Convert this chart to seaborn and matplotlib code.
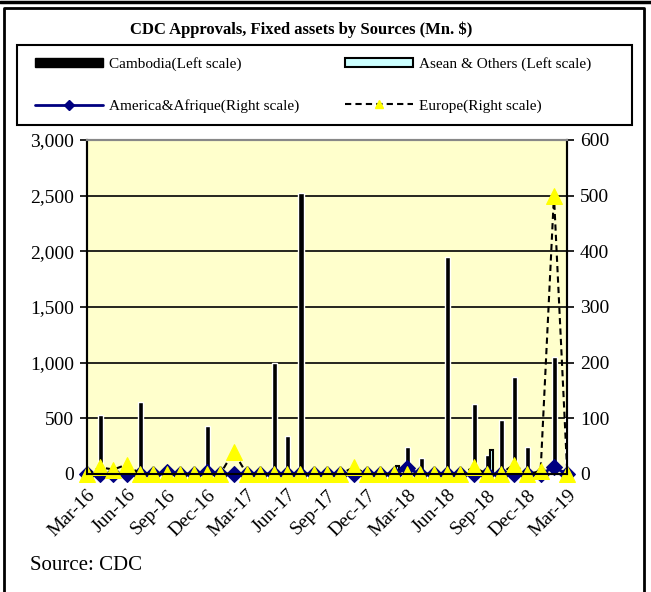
import matplotlib
matplotlib.use('Agg')
import matplotlib.pyplot as plt
import seaborn as sns
import numpy as np
import pandas as pd
from matplotlib.patches import Patch, Rectangle
from matplotlib.lines import Line2D
from matplotlib.ticker import FuncFormatter

# monthly data, Mar-16 .. Mar-19
months = ['Mar-16', 'Apr-16', 'May-16', 'Jun-16', 'Jul-16', 'Aug-16', 'Sep-16', 'Oct-16',
          'Nov-16', 'Dec-16', 'Jan-17', 'Feb-17', 'Mar-17', 'Apr-17', 'May-17', 'Jun-17',
          'Jul-17', 'Aug-17', 'Sep-17', 'Oct-17', 'Nov-17', 'Dec-17', 'Jan-18', 'Feb-18',
          'Mar-18', 'Apr-18', 'May-18', 'Jun-18', 'Jul-18', 'Aug-18', 'Sep-18', 'Oct-18',
          'Nov-18', 'Dec-18', 'Jan-19', 'Feb-19', 'Mar-19']
cambodia = [0, 530, 0, 0, 650, 0, 0, 0, 0, 434, 0, 0, 0, 0, 1000, 340, 2525, 0, 0, 0, 0,
            0, 0, 0, 243, 144, 0, 1950, 0, 626, 171, 485, 869, 240, 0, 1054, 500]
asean = [0, 0, 0, 0, 0, 0, 0, 0, 0, 0, 0, 0, 0, 0, 0, 0, 0, 0, 0, 0, 0,
         0, 0, 70, 0, 0, 0, 0, 0, 0, 216, 0, 0, 0, 0, 0, 0]
america = [0, 0, 0, 0, 0, 0, 3, 0, 0, 3, 0, 0, 0, 0, 0, 0, 0, 0, 0, 0, 0,
           0, 0, 0, 10, 0, 0, 0, 0, 0, 0, 0, 0, 0, 0, 12, 0]
europe = [0, 12, 8, 17, 0, 0, 0, 0, 0, 0, 0, 40, 0, 0, 0, 0, 0, 0, 0, 0, 12,
          0, 0, 0, 0, 0, 0, 0, 0, 12, 0, 0, 17, 0, 5, 500, 0]

sns.set_theme(style='white')
plt.rcParams['font.family'] = ['Liberation Serif', 'DejaVu Serif']
plt.rcParams['text.color'] = 'black'

W, H = 651, 592
fig = plt.figure(figsize=(W / 100, H / 100), dpi=100)
ax = fig.add_axes([86.7 / W, 1 - 474 / H, (567.3 - 86.7) / W, (474 - 140) / H])
ax.set_facecolor('#FFFFCC')

x = np.arange(len(months))
ax.bar(x + 0.05, cambodia, width=0.38, color='black', zorder=3)
ax.bar(x + 0.3, asean, width=0.24, color='#CCFFFF', edgecolor='black', linewidth=1.5, zorder=3)
ax.set_xlim(0, len(months) - 1)
ax.set_ylim(0, 3000)
ax.set_yticks(range(0, 3001, 500))
ax.yaxis.set_major_formatter(FuncFormatter(lambda v, p: f'{int(v):,}'))
ax.yaxis.grid(True, color='black', linewidth=1.2)
ax.set_axisbelow(True)
ax.set_xticks(x[::3])
ax.set_xticklabels(months[::3], rotation=45, ha='right', rotation_mode='anchor')
ax.tick_params(axis='x', length=0, pad=9, labelsize=14, labelcolor='black')
ax.tick_params(axis='y', left=True, length=5, width=1.2, color='black', labelsize=14,
               labelcolor='black', pad=4)

ax2 = ax.twinx()
df = pd.DataFrame({'x': x, 'america': america, 'europe': europe})
sns.lineplot(data=df, x='x', y='america', ax=ax2, color='#000080', linewidth=2,
             marker='D', markersize=8, markeredgecolor='#000080', clip_on=False)
sns.lineplot(data=df, x='x', y='europe', ax=ax2, color='black', linewidth=1.5,
             linestyle=(0, (3, 2)), marker='^', markersize=11, markerfacecolor='#FFFF00',
             markeredgecolor='#FFFF00', clip_on=False)
ax2.set_ylim(0, 600)
ax2.set_yticks(range(0, 601, 100))
ax2.set_xlabel('')
ax2.set_ylabel('')
ax.set_xlabel('')
ax2.tick_params(axis='y', right=True, length=5, width=1.2, color='black', labelsize=14,
                labelcolor='black', pad=4)

for a in (ax, ax2):
    for s in ('left', 'right', 'bottom'):
        a.spines[s].set_color('black')
        a.spines[s].set_linewidth(1.5)
    a.spines['top'].set_color('#888888')
    a.spines['top'].set_linewidth(1.5)

fig.text(301 / W, 1 - 30 / H, 'CDC Approvals, Fixed assets by Sources (Mn. $)',
         ha='center', va='center', fontsize=12, fontweight='bold')
fig.text(30 / W, 1 - 566 / H, 'Source: CDC', ha='left', va='center', fontsize=15)

handles = [Patch(facecolor='black', edgecolor='black'),
           Line2D([], [], color='#000080', linewidth=2, marker='D', markersize=5),
           Patch(facecolor='#CCFFFF', edgecolor='black', linewidth=1.5),
           Line2D([], [], color='black', linewidth=1.5, linestyle=(0, (3, 2)), marker='^',
                  markersize=6, markerfacecolor='#FFFF00', markeredgecolor='#FFFF00')]
labels = ['Cambodia(Left scale)', 'America&Afrique(Right scale)',
          'Asean & Others (Left scale)', 'Europe(Right scale)']
leg = fig.legend(handles, labels, loc='upper left', ncol=2,
                 bbox_to_anchor=(35 / W, 1 - 57 / H),
                 frameon=False, fontsize=11, borderpad=0, borderaxespad=0,
                 handlelength=4.45, handleheight=0.6, labelspacing=1.85,
                 handletextpad=0.4, columnspacing=3.0)
fig.add_artist(Rectangle((17 / W, 1 - 125 / H), (632 - 17) / W, 80 / H,
                         transform=fig.transFigure, fill=False, edgecolor='black',
                         linewidth=1.5))

# outer frame
fig.add_artist(Line2D([0, 1], [1 - 1.5 / H, 1 - 1.5 / H], transform=fig.transFigure,
                      color='black', linewidth=2.5))
fig.add_artist(Line2D([3.5 / W, 3.5 / W, 644 / W, 644 / W], [0, 1 - 8 / H, 1 - 8 / H, 0],
                      transform=fig.transFigure, color='black', linewidth=2))

fig.savefig('out.png', dpi=100)
